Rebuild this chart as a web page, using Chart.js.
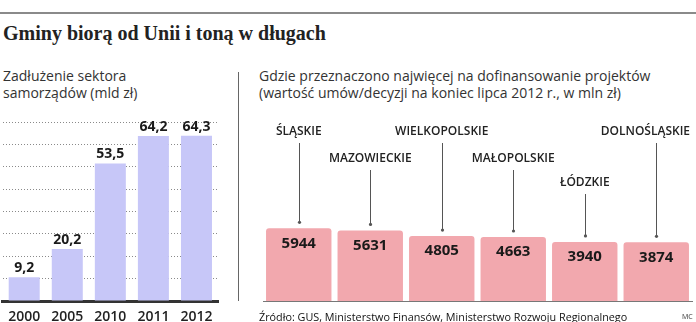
<!DOCTYPE html>
<html>
<head>
<meta charset="utf-8">
<script src="https://cdn.jsdelivr.net/npm/chart.js@4/dist/chart.umd.min.js"></script>
<style>
  html, body { margin: 0; padding: 0; background: #fff; overflow: hidden; }
  body { width: 696px; height: 322px; position: relative; font-family: "Open Sans", sans-serif; color: #333; }
  .rule { position: absolute; left: 0; top: 12px; width: 696px; height: 2px; background: #8a8a8a; }
  h1 { position: absolute; left: 3px; top: 22px; margin: 0; font: bold 20px "Liberation Serif", serif; color: #222; white-space: nowrap; }
  .sub { position: absolute; font-size: 14px; line-height: 17px; color: #333; white-space: nowrap; }
  .divider { position: absolute; left: 238px; top: 72px; width: 1px; height: 229px; background: #666; }
  .src { position: absolute; left: 259px; top: 309px; font-size: 10.8px; color: #111; white-space: nowrap; }
  .mc { position: absolute; left: 682px; top: 312px; font-size: 7px; color: #333; }
  canvas { position: absolute; }
</style>
</head>
<body>
<div class="rule"></div>
<h1>Gminy biorą od Unii i toną w długach</h1>
<div class="sub" style="left:3px; top:67px;">Zadłużenie sektora<br>samorządów (mld zł)</div>
<div class="divider"></div>
<div class="sub" style="left:259px; top:67px;">Gdzie przeznaczono najwięcej na dofinansowanie projektów<br>(wartość umów/decyzji na koniec lipca 2012 r., w mln zł)</div>
<div style="position:absolute; left:0; top:100px; width:230px; height:232px;"><canvas id="debt"></canvas></div>
<div style="position:absolute; left:240px; top:115px; width:456px; height:207px;"><canvas id="regions"></canvas></div>
<div class="src">Źródło: GUS, Ministerstwo Finansów, Ministerstwo Rozwoju Regionalnego</div>
<div class="mc">MC</div>

<script>
// Data
const years = ['2000', '2005', '2010', '2011', '2012'];
const debt = [9.2, 20.2, 53.5, 64.2, 64.3];

const regions = ['ŚLĄSKIE', 'MAZOWIECKIE', 'WIELKOPOLSKIE', 'MAŁOPOLSKIE', 'ŁÓDZKIE', 'DOLNOŚLĄSKIE'];
const funding = [5944, 5631, 4805, 4663, 3940, 3874];

// label rows for the region names (0 = top row)
const labelRows = [0, 1, 0, 1, 2, 0];

// the right chart's value axis does not start at zero
const fundingMin = -4800;
const fundingMax = 22700;

const fmt = v => String(v).replace('.', ',');

// values above the left bars
const debtLabels = {
    id: 'debtLabels',
    afterDatasetsDraw(chart) {
        const ctx = chart.ctx;
        const meta = chart.getDatasetMeta(0);
        ctx.save();
        ctx.font = 'bold 14px "Open Sans"';
        ctx.fillStyle = '#1a1a1a';
        ctx.textAlign = 'center';
        ctx.textBaseline = 'bottom';
        meta.data.forEach((bar, i) => {
            ctx.fillText(fmt(debt[i]), bar.x, bar.y - 2);
        });
        ctx.restore();
    }
};

// region names, leader lines and values inside the right bars
const regionLabels = {
    id: 'regionLabels',
    afterDatasetsDraw(chart) {
        const ctx = chart.ctx;
        const meta = chart.getDatasetMeta(0);
        const rowY = [17, 44, 68];
        ctx.save();
        meta.data.forEach((bar, i) => {
            const row = labelRows[i];
            ctx.font = '600 12px "Open Sans"';
            const w = ctx.measureText(regions[i]).width;
            const tx = Math.min(bar.x, chart.width - w / 2 - 6);
            ctx.fillStyle = '#222';
            ctx.textAlign = 'center';
            ctx.textBaseline = 'middle';
            ctx.fillText(regions[i], tx, rowY[row]);

            const lx = Math.round(bar.x) + 0.5;
            ctx.strokeStyle = '#555';
            ctx.lineWidth = 1;
            ctx.beginPath();
            ctx.moveTo(lx, rowY[row] + 11);
            ctx.lineTo(lx, bar.y - 6);
            ctx.stroke();
            ctx.fillStyle = '#555';
            ctx.beginPath();
            ctx.arc(lx, bar.y - 6, 1.6, 0, Math.PI * 2);
            ctx.fill();

            ctx.font = 'bold 15px "Open Sans"';
            ctx.fillStyle = '#1a1a1a';
            ctx.fillText(String(funding[i]), bar.x, bar.y + 15);
        });
        ctx.restore();
    }
};

new Chart(document.getElementById('debt'), {
    type: 'bar',
    data: {
        labels: years,
        datasets: [{
            data: debt,
            backgroundColor: '#c7c7f8',
            barPercentage: 0.72,
            categoryPercentage: 1
        }]
    },
    options: {
        responsive: true,
        maintainAspectRatio: false,
        animation: false,
        layout: { padding: { left: 2, right: 12, top: 22, bottom: 6 } },
        plugins: { legend: { display: false }, tooltip: { enabled: false } },
        scales: {
            x: {
                afterFit: s => { s.height = 25; },
                grid: { display: false, drawTicks: false },
                border: { display: true, color: '#333', width: 3 },
                ticks: {
                    color: '#222',
                    padding: 8,
                    font: { family: 'Open Sans', size: 14, weight: '600' }
                }
            },
            y: {
                min: 0,
                max: 69.6,
                afterFit: s => { s.width = 0; },
                ticks: { display: false, stepSize: 8.7 },
                grid: { color: '#8a8a8a', lineWidth: 1, drawTicks: false },
                border: { display: false, dash: [1, 2] }
            }
        }
    },
    plugins: [debtLabels]
});

new Chart(document.getElementById('regions'), {
    type: 'bar',
    data: {
        labels: regions,
        datasets: [{
            data: funding,
            base: fundingMin,
            backgroundColor: '#f2a8ae',
            borderRadius: { topLeft: 3, topRight: 3 },
            borderSkipped: 'bottom',
            barPercentage: 0.915,
            categoryPercentage: 1
        }]
    },
    options: {
        responsive: true,
        maintainAspectRatio: false,
        animation: false,
        layout: { padding: { left: 23, right: 4, top: 0, bottom: 21 } },
        plugins: { legend: { display: false }, tooltip: { enabled: false } },
        scales: {
            x: {
                afterFit: s => { s.height = 0; },
                ticks: { display: false },
                grid: { display: false, drawTicks: false },
                border: { display: true, color: '#777', width: 1, dash: [1, 2] }
            },
            y: {
                display: false,
                min: fundingMin,
                max: fundingMax
            }
        }
    },
    plugins: [regionLabels]
});
</script>
</body>
</html>
